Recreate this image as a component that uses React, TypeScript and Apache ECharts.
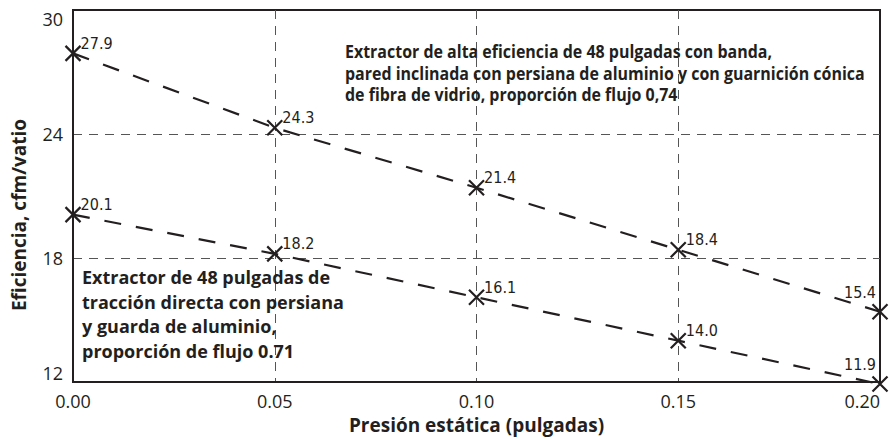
import { useEffect, useRef } from "react";
import * as echarts from "echarts";

const pressure = [0, 0.05, 0.1, 0.15, 0.2];
const highEfficiency = [27.9, 24.3, 21.4, 18.4, 15.4];
const directDrive = [20.1, 18.2, 16.1, 14.0, 11.9];
const yRange = [12, 30];
const yStep = 6;
const xRange = [0, 0.2];
const xStep = 0.05;
const annotationHigh = [
  "Extractor de alta eficiencia de 48 pulgadas con banda,",
  "pared inclinada con persiana de aluminio y con guarnición cónica",
  "de fibra de vidrio, proporción de flujo 0,74",
];
const annotationDirect = [
  "Extractor de 48 pulgadas de",
  "tracción directa con persiana",
  "y guarda de aluminio,",
  "proporción de flujo 0.71",
];
const xTitle = "Presión estática (pulgadas)";
const yTitle = "Eficiencia, cfm/vatio";

const INK = "#231f20";
const FONT = "'Open Sans', 'Noto Sans', sans-serif";
const NARROW = "'Liberation Sans Narrow', 'DejaVu Sans Condensed', Roboto, sans-serif";

function makeSeries(name: string, values: number[]) {
  return {
    name,
    type: "line",
    data: pressure.map((x, i) => {
      const last = i === pressure.length - 1;
      return last
        ? { value: [x, values[i]], label: { position: "top", distance: 3, offset: [-20, 0] } }
        : { value: [x, values[i]] };
    }),
    clip: false,
    symbol: "path://M0,0L10,10M10,0L0,10",
    symbolSize: 15,
    showAllSymbol: true,
    lineStyle: { color: INK, width: 2.2, type: [17, 15] },
    itemStyle: { color: "rgba(0,0,0,0)", borderColor: INK, borderWidth: 2.2 },
    label: {
      show: true,
      position: "right",
      distance: 0,
      offset: [-1, -10],
      formatter: (p: any) => p.value[1].toFixed(1),
      fontFamily: NARROW,
      fontSize: 16,
      color: INK,
    },
    emphasis: { disabled: true },
    z: 5,
  };
}

export default function App() {
  const ref = useRef<HTMLDivElement>(null);
  useEffect(() => {
    if (!ref.current) return;
    const chart = echarts.init(ref.current, null, { renderer: "svg" });
    chart.setOption({
      animation: false,
      backgroundColor: "#ffffff",
      grid: {
        left: 73,
        right: 10,
        top: 10,
        bottom: 57,
        show: true,
        borderColor: INK,
        borderWidth: 2,
        backgroundColor: "transparent",
        containLabel: false,
        outerBoundsMode: "none",
      },
      xAxis: {
        type: "value",
        min: xRange[0],
        max: xRange[1],
        interval: xStep,
        name: xTitle,
        nameLocation: "middle",
        nameGap: 33,
        nameTextStyle: { fontFamily: FONT, fontWeight: "bold", fontSize: 19, color: INK },
        axisLine: { show: true, lineStyle: { color: INK, width: 2 } },
        axisTick: { show: false },
        axisLabel: {
          fontFamily: FONT,
          fontSize: 18,
          color: INK,
          margin: 10,
          formatter: (v: number) => v.toFixed(2),
          alignMaxLabel: "right",
        },
        splitLine: {
          show: true,
          showMinLine: false,
          showMaxLine: false,
          lineStyle: { color: "#555", width: 1, type: [9, 7] },
        },
      },
      yAxis: {
        type: "value",
        min: yRange[0],
        max: yRange[1],
        interval: yStep,
        axisLine: { show: true, lineStyle: { color: INK, width: 2 } },
        axisTick: { show: false },
        axisLabel: {
          fontFamily: FONT,
          fontSize: 18,
          color: INK,
          margin: 10,
          verticalAlignMinLabel: "bottom",
          verticalAlignMaxLabel: "top",
        },
        splitLine: {
          show: true,
          showMinLine: false,
          showMaxLine: false,
          lineStyle: { color: "#555", width: 1, type: [9, 7] },
        },
      },
      graphic: [
        {
          type: "text",
          x: 345,
          y: 41,
          scaleX: 0.94,
          z: 10,
          style: {
            text: annotationHigh.join("\n"),
            fontFamily: FONT,
            fontWeight: "bold",
            fontSize: 17,
            lineHeight: 21.5,
            fill: INK,
          },
        },
        {
          type: "text",
          x: 82,
          y: 265,
          z: 10,
          style: {
            text: annotationDirect.join("\n"),
            fontFamily: FONT,
            fontWeight: "bold",
            fontSize: 18,
            lineHeight: 24.5,
            fill: INK,
          },
        },
        {
          type: "text",
          x: 19,
          y: 215,
          rotation: Math.PI / 2,
          z: 10,
          style: {
            text: yTitle,
            fontFamily: FONT,
            fontWeight: "bold",
            fontSize: 19,
            fill: INK,
            align: "center",
            verticalAlign: "middle",
          },
        },
      ],
      series: [makeSeries("alta eficiencia", highEfficiency), makeSeries("tracción directa", directDrive)],
    });
    return () => chart.dispose();
  }, []);
  return (
    <div
      ref={ref}
      style={{ position: "fixed", left: 0, top: 0, width: 890, height: 439, background: "#fff" }}
    />
  );
}
